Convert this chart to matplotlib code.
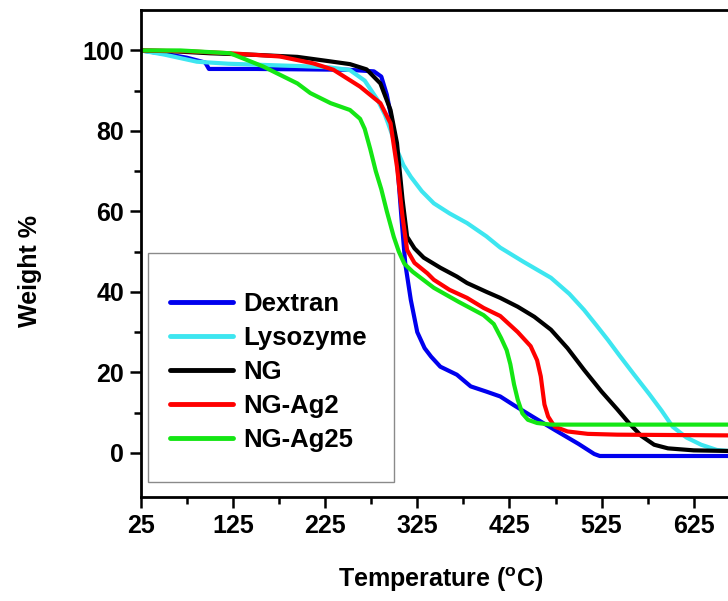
import numpy as np
import matplotlib
matplotlib.use("Agg")
import matplotlib.pyplot as plt
from matplotlib.patches import Rectangle

plt.rcParams['font.family'] = ['Liberation Sans', 'DejaVu Sans']
plt.rcParams['font.weight'] = 'bold'
plt.rcParams['mathtext.fontset'] = 'custom'
plt.rcParams['mathtext.rm'] = 'Liberation Sans:bold'
plt.rcParams['mathtext.it'] = 'Liberation Sans:bold'

# TGA curves (temperature in C, weight %)
dextran_T = [25, 50, 75, 95, 99, 150, 200, 250, 278, 286, 292, 298, 303, 308, 312, 318, 325, 333, 340,
             350, 368, 383, 400, 415, 430, 450, 474, 500, 517, 523, 675]
dextran_W = [100, 99.2, 98.2, 97, 95.4, 95.4, 95.3, 95.2, 94.8, 93.5, 89, 82, 73, 58, 47, 38, 30, 26, 23.9,
             21.4, 19.4, 16.5, 15.2, 14, 11.8, 9, 5.7, 2.2, -0.3, -0.8, -0.8]

lyso_T = [25, 50, 86, 120, 158, 200, 230, 252, 268, 282, 290, 296, 303, 310, 318, 330, 343, 360, 379, 400,
          415, 440, 470, 490, 506, 520, 532, 544, 560, 577, 590, 602, 617, 633, 650, 675]
lyso_W = [100, 99, 97.2, 96.7, 96.4, 96.1, 95.8, 95.1, 92.5, 87.7, 84, 80.2, 75.3, 71.5, 68.6, 65, 62, 59.5,
          57.1, 53.8, 51, 47.5, 43.5, 39.5, 35.5, 31.5, 28, 24.3, 19.5, 14.5, 10.5, 6.5, 3.8, 2, 0.7, 0.2]

ng_T = [25, 60, 100, 150, 195, 227, 252, 270, 285, 296, 303, 309, 314, 322, 332, 350, 368, 379, 400, 415,
        434, 452, 470, 488, 506, 525, 542, 555, 568, 582, 597, 625, 675]
ng_W = [100, 99.8, 99.3, 98.9, 98.4, 97.4, 96.6, 95.3, 91.8, 85.2, 77, 63, 53.7, 50.8, 48.5, 46, 43.8, 42.2,
        40, 38.5, 36.3, 33.8, 30.6, 26, 20.6, 15.2, 10.8, 7.3, 4.2, 2, 1.1, 0.6, 0.4]

ag2_T = [25, 75, 122, 176, 212, 234, 263, 285, 296, 303, 309, 314, 322, 336, 343, 360, 379, 397, 415, 434,
         448, 455, 459, 463, 467, 474, 488, 510, 542, 675]
ag2_W = [100, 99.8, 99.3, 98.5, 96.8, 95.2, 91, 86.9, 81.9, 71.1, 58.7, 50.4, 47.2, 44.6, 43, 40.5, 38.5,
         36, 34, 30, 26.5, 23, 19, 12, 9, 6.5, 5.3, 4.7, 4.5, 4.3]

ag25_T = [25, 68, 122, 158, 195, 209, 231, 252, 263, 268, 274, 280, 286, 292, 299.5, 305, 311, 320, 343, 370,
          397, 408, 416, 422, 426, 430, 434, 439, 445, 455, 470, 675]
ag25_W = [100, 100, 99.3, 96, 91.8, 89.4, 86.9, 85.2, 83, 80.5, 75.5, 70, 65.5, 60, 53.7, 50, 47, 45, 41,
          37.5, 34.2, 32, 28.5, 25.5, 22, 17, 13.2, 9.8, 8.2, 7.4, 7, 7]

series = [
    ("Dextran", dextran_T, dextran_W, "#0000ee"),
    ("Lysozyme", lyso_T, lyso_W, "#3de6f0"),
    ("NG", ng_T, ng_W, "#000000"),
    ("NG-Ag2", ag2_T, ag2_W, "#ff0000"),
    ("NG-Ag25", ag25_T, ag25_W, "#14e614"),
]

xticks = np.arange(25, 676, 100)
xminor = np.arange(75, 676, 100)
yticks = np.arange(0, 101, 20)
yminor = np.arange(10, 100, 20)

fig = plt.figure(figsize=(7.28, 6.01), dpi=100)
ax = fig.add_axes([0.1933, 0.173, 0.823, 0.810])

for name, T, W, c in series:
    ax.plot(T, W, color=c, lw=3, label=name, solid_joinstyle='round', solid_capstyle='round')

ax.set_xlim(25, 675)
ax.set_ylim(-11, 110)
ax.set_xticks(xticks)
ax.set_xticks(xminor, minor=True)
ax.set_yticks(yticks)
ax.set_yticks(yminor, minor=True)

for s in ax.spines.values():
    s.set_linewidth(2)
ax.tick_params(which='major', direction='out', length=8, width=1.8, labelsize=18, pad=4)
ax.tick_params(which='minor', direction='out', length=5, width=1.8)

ax.set_xlabel(r"Temperature ($^{\rm o}$C)", fontsize=18, fontweight='bold')
ax.xaxis.set_label_coords(0.5, -0.14)
ax.set_ylabel("Weight %", fontsize=18, fontweight='bold')
ax.yaxis.set_label_coords(-0.165, 0.464)

# legend box
box = Rectangle((0.2033, 0.198), 0.338, 0.3815, transform=fig.transFigure,
                facecolor='white', edgecolor='#8a8a8a', lw=1, zorder=5)
ax.add_patch(box)
box.set_clip_on(False)
leg = ax.legend(loc='upper left', bbox_to_anchor=(0.2335, 0.514), bbox_transform=fig.transFigure,
                frameon=False, fontsize=18.5, handlelength=2.45, handletextpad=0.4,
                labelspacing=0.39, borderpad=0, borderaxespad=0)
leg.set_zorder(6)
for line in leg.get_lines():
    line.set_linewidth(3.5)

fig.savefig("out.png", dpi=100)
